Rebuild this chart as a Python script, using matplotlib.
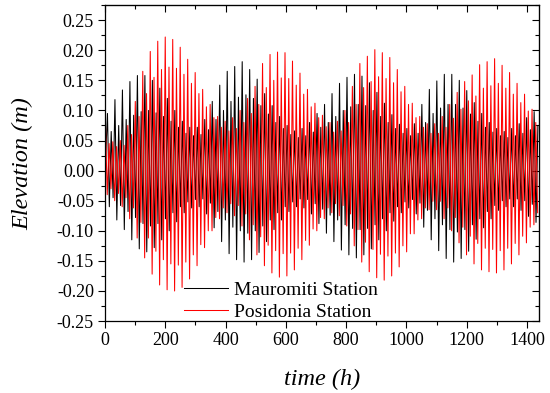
import numpy as np
import matplotlib
matplotlib.use("Agg")
import matplotlib.pyplot as plt
from matplotlib.ticker import MultipleLocator, FormatStrFormatter

# tidal extremes read per lunar day (24.84 h): higher high, lower high,
# lower low, higher low  [m]
day_len = 24.84
maur_phase = 8.0
posi_phase = 1.0

maur_hh = [0.095, 0.118, 0.134, 0.148, 0.158, 0.158, 0.150, 0.137, 0.120, 0.100,
           0.082, 0.072, 0.072, 0.085, 0.115, 0.142, 0.165, 0.173, 0.181, 0.168,
           0.152, 0.128, 0.108, 0.090, 0.075, 0.066, 0.070, 0.080, 0.095, 0.110,
           0.128, 0.145, 0.155, 0.160, 0.157, 0.146, 0.130, 0.112, 0.093, 0.077,
           0.070, 0.078, 0.110, 0.135, 0.149, 0.160, 0.160, 0.150, 0.133, 0.113,
           0.095, 0.080, 0.070, 0.065, 0.070, 0.078, 0.088, 0.098]
maur_lh = [0.065, 0.075, 0.085, 0.092, 0.098, 0.100, 0.096, 0.090, 0.082, 0.072,
           0.062, 0.058, 0.060, 0.068, 0.085, 0.100, 0.115, 0.122, 0.126, 0.120,
           0.108, 0.094, 0.080, 0.070, 0.060, 0.055, 0.058, 0.064, 0.072, 0.080,
           0.090, 0.100, 0.106, 0.110, 0.108, 0.100, 0.090, 0.080, 0.070, 0.062,
           0.058, 0.062, 0.080, 0.095, 0.104, 0.110, 0.110, 0.104, 0.094, 0.082,
           0.072, 0.064, 0.058, 0.055, 0.058, 0.062, 0.068, 0.074]
maur_ll = [-0.060, -0.082, -0.098, -0.115, -0.130, -0.135, -0.128, -0.115, -0.100, -0.085,
           -0.070, -0.062, -0.060, -0.072, -0.095, -0.118, -0.138, -0.148, -0.152, -0.148,
           -0.136, -0.118, -0.098, -0.082, -0.068, -0.060, -0.062, -0.072, -0.088, -0.104,
           -0.118, -0.132, -0.140, -0.145, -0.140, -0.130, -0.115, -0.100, -0.084, -0.070,
           -0.062, -0.072, -0.094, -0.115, -0.133, -0.146, -0.152, -0.146, -0.134, -0.114,
           -0.095, -0.080, -0.066, -0.060, -0.060, -0.066, -0.076, -0.086]
maur_hl = [-0.045, -0.058, -0.068, -0.078, -0.088, -0.092, -0.088, -0.080, -0.070, -0.060,
           -0.052, -0.048, -0.047, -0.054, -0.068, -0.082, -0.094, -0.100, -0.104, -0.100,
           -0.092, -0.082, -0.070, -0.060, -0.052, -0.047, -0.048, -0.055, -0.064, -0.074,
           -0.082, -0.090, -0.096, -0.098, -0.096, -0.090, -0.080, -0.070, -0.060, -0.052,
           -0.048, -0.054, -0.066, -0.080, -0.090, -0.098, -0.102, -0.098, -0.090, -0.080,
           -0.068, -0.058, -0.050, -0.047, -0.047, -0.050, -0.056, -0.062]

posi_hh = [0.085, 0.048, 0.050, 0.075, 0.115, 0.165, 0.198, 0.215, 0.222, 0.218,
           0.205, 0.185, 0.163, 0.135, 0.110, 0.090, 0.082, 0.088, 0.100, 0.120,
           0.140, 0.178, 0.193, 0.197, 0.196, 0.182, 0.162, 0.135, 0.112, 0.092,
           0.080, 0.082, 0.100, 0.140, 0.178, 0.190, 0.201, 0.196, 0.188, 0.168,
           0.140, 0.112, 0.090, 0.078, 0.078, 0.090, 0.110, 0.130, 0.148, 0.159,
           0.176, 0.181, 0.186, 0.175, 0.163, 0.145, 0.127, 0.102]
posi_lh = [0.045, 0.040, 0.042, 0.060, 0.090, 0.128, 0.155, 0.168, 0.172, 0.170,
           0.160, 0.145, 0.128, 0.106, 0.088, 0.072, 0.066, 0.070, 0.080, 0.095,
           0.110, 0.138, 0.150, 0.154, 0.153, 0.142, 0.127, 0.106, 0.088, 0.073,
           0.064, 0.066, 0.080, 0.110, 0.138, 0.148, 0.156, 0.153, 0.146, 0.131,
           0.110, 0.088, 0.072, 0.062, 0.062, 0.072, 0.087, 0.102, 0.116, 0.124,
           0.137, 0.141, 0.145, 0.137, 0.127, 0.113, 0.099, 0.080]
posi_ll = [-0.040, -0.050, -0.060, -0.080, -0.112, -0.145, -0.172, -0.190, -0.198, -0.200,
           -0.194, -0.180, -0.158, -0.128, -0.100, -0.080, -0.070, -0.075, -0.092, -0.115,
           -0.140, -0.158, -0.170, -0.177, -0.175, -0.165, -0.148, -0.124, -0.100, -0.080,
           -0.070, -0.075, -0.092, -0.125, -0.152, -0.168, -0.178, -0.182, -0.175, -0.160,
           -0.135, -0.105, -0.080, -0.065, -0.065, -0.080, -0.100, -0.120, -0.140, -0.155,
           -0.165, -0.168, -0.170, -0.165, -0.155, -0.140, -0.120, -0.090]
posi_hl = [-0.030, -0.038, -0.045, -0.062, -0.086, -0.112, -0.134, -0.148, -0.155, -0.157,
           -0.152, -0.140, -0.123, -0.100, -0.078, -0.062, -0.055, -0.058, -0.072, -0.090,
           -0.110, -0.124, -0.133, -0.138, -0.137, -0.129, -0.116, -0.097, -0.078, -0.062,
           -0.055, -0.058, -0.072, -0.098, -0.119, -0.131, -0.139, -0.142, -0.137, -0.125,
           -0.105, -0.082, -0.062, -0.051, -0.051, -0.062, -0.078, -0.094, -0.109, -0.121,
           -0.129, -0.131, -0.133, -0.129, -0.121, -0.109, -0.094, -0.070]

labels = ["Mauromiti Station", "Posidonia Station"]


def tide_curve(phase, hh, ll, lh, hl):
    # one lunar day: high, low, high, low every quarter of 24.84 h
    n = len(hh)
    t = (phase + day_len * np.arange(n))[:, None] + day_len / 4 * np.arange(4)
    v = np.column_stack([hh, ll, lh, hl])
    t, v = t.ravel(), v.ravel()
    keep = t <= 1440
    return t[keep], v[keep]


plt.rcParams['font.family'] = ['Liberation Serif', 'DejaVu Serif']

fig = plt.figure(figsize=(5.5, 3.93), dpi=100)
ax = fig.add_axes([0.191, 0.183, 0.789, 0.804])

tm, vm = tide_curve(maur_phase, maur_hh, maur_ll, maur_lh, maur_hl)
tp, vp = tide_curve(posi_phase, posi_hh, posi_ll, posi_lh, posi_hl)
tm = np.concatenate([[0], tm])
vm = np.concatenate([[0.0], vm])
tp = np.concatenate([[0], tp])
vp = np.concatenate([[0.085], vp])

ax.plot(tm, vm, color='black', lw=0.75, label=labels[0])
ax.plot(tp, vp, color='red', lw=0.75, label=labels[1])

ax.set_xlim(0, 1440)
ax.set_ylim(-0.25, 0.275)
ax.xaxis.set_major_locator(MultipleLocator(200))
ax.xaxis.set_minor_locator(MultipleLocator(100))
ax.yaxis.set_major_locator(MultipleLocator(0.05))
ax.yaxis.set_minor_locator(MultipleLocator(0.025))
ax.yaxis.set_major_formatter(FormatStrFormatter('%.2f'))

ax.tick_params(which='both', direction='out', top=False, right=False,
               labelsize=13, width=0.8, pad=3)
ax.tick_params(which='major', length=5)
ax.tick_params(which='minor', length=3)
for s in ax.spines.values():
    s.set_linewidth(0.9)

# inward mirrored ticks on top and right
sec_x = ax.secondary_xaxis('top')
sec_x.xaxis.set_major_locator(MultipleLocator(200))
sec_x.xaxis.set_minor_locator(MultipleLocator(100))
sec_x.tick_params(which='both', direction='in', labeltop=False, width=0.8)
sec_x.tick_params(which='major', length=5)
sec_x.tick_params(which='minor', length=3)
sec_y = ax.secondary_yaxis('right')
sec_y.yaxis.set_major_locator(MultipleLocator(0.05))
sec_y.yaxis.set_minor_locator(MultipleLocator(0.025))
sec_y.tick_params(which='both', direction='in', labelright=False, width=0.8)
sec_y.tick_params(which='major', length=5)
sec_y.tick_params(which='minor', length=3)

ax.set_xlabel('time (h)', fontsize=17.5, style='italic', labelpad=14)
ax.set_ylabel('Elevation (m)', fontsize=17.5, style='italic', labelpad=17)

ax.legend(loc='lower left', bbox_to_anchor=(0.182, 0.0), frameon=False,
          fontsize=14, handlelength=2.27, labelspacing=0.25, handletextpad=0.3,
          borderpad=0, borderaxespad=0)

fig.savefig('out.png', dpi=100)
